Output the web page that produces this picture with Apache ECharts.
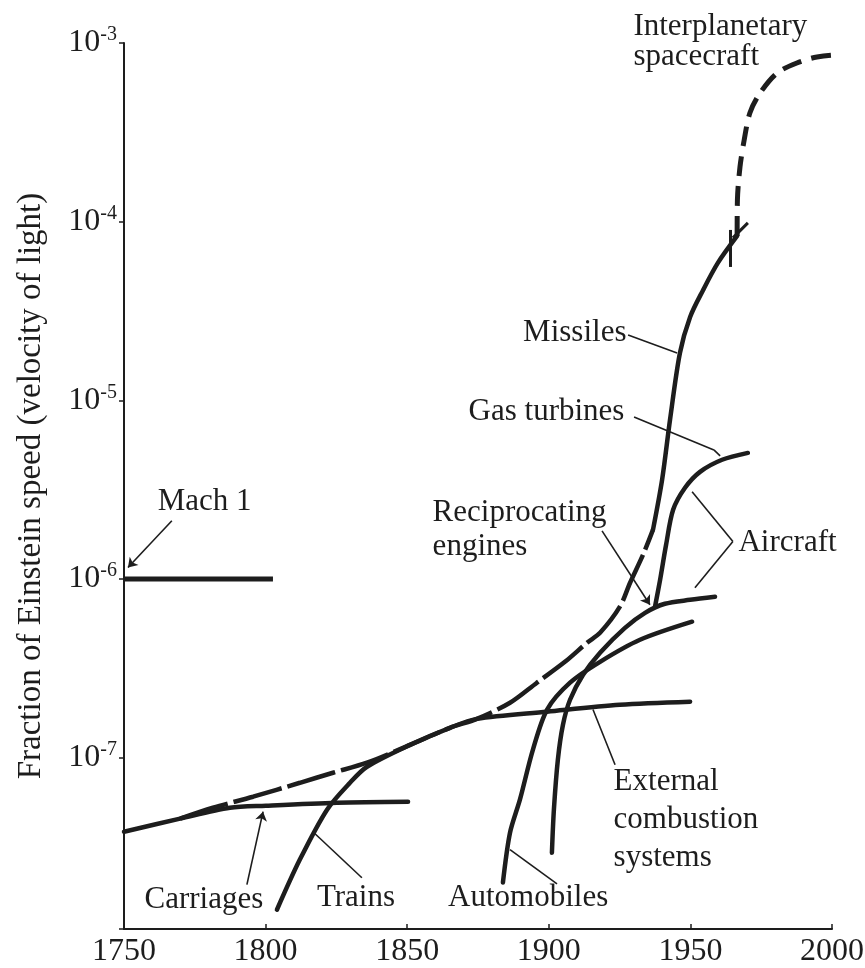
<!DOCTYPE html>
<html>
<head>
<meta charset="utf-8">
<script src="https://cdn.jsdelivr.net/npm/echarts@6/dist/echarts.min.js"></script>
<style>
  html, body { margin: 0; padding: 0; background: #fff; }
  #main { width: 865px; height: 968px; }
</style>
</head>
<body>
<div id="main"></div>
<script>
// speeds as fraction of light speed (year, value)
var machYears = [1750, 1802.6];
var machVals = [1e-6, 1e-6];

var carriageYears = [1750, 1769.8, 1787.4, 1800.1, 1825.2, 1850.3];
var carriageVals = [3.85e-8, 4.56e-8, 5.25e-8, 5.39e-8, 5.6e-8, 5.67e-8];

// trains run on into the external combustion line
var trainYears = [1804.0, 1812.1, 1821.7, 1829.8, 1835.8, 1851.0, 1865.1, 1874.6, 1899.4, 1925.1, 1949.9];
var trainVals = [1.41e-8, 2.69e-8, 5.12e-8, 7.24e-8, 8.9e-8, 1.18e-7, 1.47e-7, 1.65e-7, 1.81e-7, 1.98e-7, 2.06e-7];

var envelopeYears = [1769.8, 1781.4, 1795.6, 1812.1, 1823.8, 1835.8, 1851.0, 1865.1, 1874.6, 1886.3, 1895.8, 1905.7, 1913.5, 1918.1, 1925.1, 1928.7, 1933.3, 1936.8];
var envelopeVals = [4.56e-8, 5.25e-8, 6.05e-8, 7.24e-8, 8.24e-8, 9.38e-8, 1.18e-7, 1.47e-7, 1.65e-7, 2.03e-7, 2.63e-7, 3.44e-7, 4.4e-7, 5.0e-7, 7.0e-7, 9.53e-7, 1.37e-6, 1.89e-6];

var autoYears = [1883.8, 1886.3, 1889.8, 1894.4, 1899.4, 1907.5, 1918.1, 1932.2, 1950.6];
var autoVals = [2.0e-8, 3.8e-8, 5.82e-8, 1.11e-7, 1.86e-7, 2.63e-7, 3.44e-7, 4.57e-7, 5.77e-7];

var recipYears = [1901.1, 1901.8, 1903.2, 1905.0, 1907.5, 1912.1, 1918.1, 1926.9, 1934.0, 1941.0, 1949.9, 1958.7];
var recipVals = [2.94e-8, 5.12e-8, 9.75e-8, 1.53e-7, 2.11e-7, 2.91e-7, 3.87e-7, 5.33e-7, 6.47e-7, 7.27e-7, 7.65e-7, 7.96e-7];

var turbineYears = [1937.5, 1939.3, 1941.4, 1943.9, 1948.1, 1953.4, 1961.2, 1970.3];
var turbineVals = [7.0e-7, 9.9e-7, 1.55e-6, 2.44e-6, 3.24e-6, 3.98e-6, 4.65e-6, 5.08e-6];

var missileYears = [1936.8, 1940.0, 1942.8, 1946.3, 1949.9, 1954.5, 1959.7, 1966.5];
var missileVals = [1.89e-6, 3.59e-6, 7.78e-6, 1.84e-5, 2.93e-5, 4.15e-5, 5.88e-5, 8.32e-5];

var craftYears = [1966.5, 1966.6, 1967.5, 1969.0, 1971.0, 1974.6, 1980.6, 1987.6, 1994.7, 2002.8, 2008.8];
var craftVals = [8.32e-5, 1.32e-4, 2.02e-4, 2.87e-4, 4.06e-4, 5.25e-4, 6.79e-4, 7.73e-4, 8.35e-4, 8.57e-4, 8.57e-4];

// labels and the points they sit at
var noteText = ['Mach 1', 'Carriages', 'Trains', 'Automobiles', 'External\ncombustion\nsystems',
  'Reciprocating\nengines', 'Gas turbines', 'Missiles', 'Aircraft', 'Interplanetary\nspacecraft'];
var noteYears = [1761.7, 1778.2, 1831.9, 1892.7, 1922.7, 1858.8, 1871.5, 1927.6, 1966.8, 1929.7];
var noteVals = [2.71e-6, 1.61e-8, 1.65e-8, 1.65e-8, 4.5e-8, 1.89e-6, 8.62e-6, 2.39e-5, 1.6e-6, 1.02e-3];

// pointer lines from labels to curves
var leaderFrom = [[1766.9, 2.12e-6], [1793.4, 1.95e-8], [1834.0, 2.13e-8], [1902.9, 1.97e-8],
  [1923.4, 9.14e-8], [1918.8, 1.86e-6], [1930.1, 8.08e-6], [1958.3, 5.28e-6], [1928.0, 2.32e-5],
  [1965.0, 1.62e-6], [1965.0, 1.62e-6]];
var leaderTo = [[1751.4, 1.16e-6], [1799.1, 4.99e-8], [1816.7, 3.85e-8], [1886.3, 3.06e-8],
  [1915.6, 1.86e-7], [1935.7, 7.18e-7], [1958.3, 5.28e-6], [1960.5, 4.89e-6], [1945.3, 1.84e-5],
  [1950.6, 3.08e-6], [1951.6, 8.93e-7]];

// cross marks where missiles hand over to spacecraft
var breakFrom = [[1964.0, 8.99e-5], [1965.0, 8.11e-5]];
var breakTo = [[1964.0, 5.58e-5], [1970.3, 9.84e-5]];

var yTicks = [-3, -4, -5, -6, -7];

var FONT = '"Liberation Serif", "Times New Roman", serif';
var INK = '#1d1d1d';

function pts(xs, ys) {
  return xs.map(function (x, i) { return [x, ys[i]]; });
}

function curve(name, xs, ys, extra) {
  var s = {
    name: name,
    type: 'line',
    data: pts(xs, ys),
    smooth: 0.3,
    symbol: 'none',
    lineStyle: { color: INK, width: 4.5, cap: 'round' },
    z: 3
  };
  return Object.assign(s, extra || {});
}

// how each note hangs off its point
var noteLayout = {
  'Mach 1': { position: 'right' },
  'Carriages': { position: 'inside' },
  'Trains': { position: 'inside' },
  'Automobiles': { position: 'inside' },
  'External\ncombustion\nsystems': { position: 'right', lineHeight: 38 },
  'Reciprocating\nengines': { position: 'right', lineHeight: 34 },
  'Gas turbines': { position: 'right' },
  'Missiles': { position: 'left' },
  'Aircraft': { position: 'right' },
  'Interplanetary\nspacecraft': { position: 'right', lineHeight: 30 }
};
var arrowOn = [true, true, false, false, false, true, false, false, false, false, false];

var notes = noteText.map(function (t, i) {
  var lay = noteLayout[t];
  return {
    value: [noteYears[i], noteVals[i]],
    label: {
      show: true,
      formatter: t,
      position: lay.position,
      distance: 0,
      color: INK,
      opacity: 1,
      textBorderWidth: 0,
      fontFamily: FONT,
      fontSize: 31,
      lineHeight: lay.lineHeight || 34
    }
  };
});

var leaders = leaderFrom.map(function (f, i) {
  return [
    { coord: f, symbol: 'none' },
    { coord: leaderTo[i], symbol: arrowOn[i] ? 'arrow' : 'none' }
  ];
});
breakFrom.forEach(function (f, i) {
  leaders.push([
    { coord: f, symbol: 'none', lineStyle: { width: 3 } },
    { coord: breakTo[i], symbol: 'none' }
  ]);
});

var chart = echarts.init(document.getElementById('main'), null, { renderer: 'canvas' });

chart.setOption({
  backgroundColor: '#ffffff',
  animation: false,
  grid: { left: 124, right: 33, top: 43, bottom: 39, containLabel: false, outerBoundsMode: 'none' },
  xAxis: {
    type: 'value',
    min: 1750,
    max: 2000,
    interval: 50,
    splitLine: { show: false },
    axisLine: { show: true, lineStyle: { color: INK, width: 2 } },
    axisTick: { show: true, inside: true, length: 5, lineStyle: { color: INK, width: 1.5 } },
    axisLabel: {
      color: INK, fontFamily: FONT, fontSize: 32, margin: 7,
      formatter: function (v) { return String(v); }
    }
  },
  yAxis: {
    type: 'log',
    logBase: 10,
    min: 1.1e-8,
    max: 1e-3,
    splitLine: { show: false },
    axisLine: { show: true, lineStyle: { color: INK, width: 2 } },
    axisTick: { show: true, inside: false, length: 5, lineStyle: { color: INK, width: 1.5 } },
    axisLabel: {
      margin: 7,
      color: INK,
      formatter: function (v) {
        var l = Math.log10(v);
        var e = Math.round(l);
        if (Math.abs(l - e) > 1e-6 || yTicks.indexOf(e) < 0) return '';
        return '{b|10}{s|' + e + '}';
      },
      rich: {
        b: { fontFamily: FONT, fontSize: 32, lineHeight: 36, color: INK },
        s: { fontFamily: FONT, fontSize: 20, lineHeight: 20, verticalAlign: 'top', color: INK }
      }
    },
    name: 'Fraction of Einstein speed (velocity of light)',
    nameLocation: 'middle',
    nameRotate: 90,
    nameGap: 76,
    nameTextStyle: { fontFamily: FONT, fontSize: 33, color: INK }
  },
  series: [
    curve('Mach 1', machYears, machVals, { smooth: false, lineStyle: { color: INK, width: 5 } }),
    curve('Carriages', carriageYears, carriageVals),
    curve('Trains', trainYears, trainVals),
    curve('Envelope', envelopeYears, envelopeVals, {
      lineStyle: { color: INK, width: 4.5, type: [50, 6] }
    }),
    curve('Automobiles', autoYears, autoVals),
    curve('Reciprocating engines', recipYears, recipVals),
    curve('Gas turbines', turbineYears, turbineVals),
    curve('Missiles', missileYears, missileVals),
    curve('Interplanetary spacecraft', craftYears, craftVals, {
      clip: false,
      lineStyle: { color: INK, width: 5, type: [20, 10] }
    }),
    {
      name: 'leaders',
      type: 'line',
      data: [],
      markLine: {
        silent: true,
        animation: false,
        symbol: ['none', 'none'],
        symbolSize: 9,
        label: { show: false },
        emphasis: { disabled: true },
        lineStyle: { type: 'solid', color: INK, width: 1.6 },
        data: leaders
      }
    },
    {
      name: 'notes',
      type: 'scatter',
      clip: false,
      symbol: 'circle',
      symbolSize: 1,
      itemStyle: { color: 'rgba(0,0,0,0)', opacity: 1 },
      data: notes,
      z: 5
    }
  ]
});
</script>
</body>
</html>
